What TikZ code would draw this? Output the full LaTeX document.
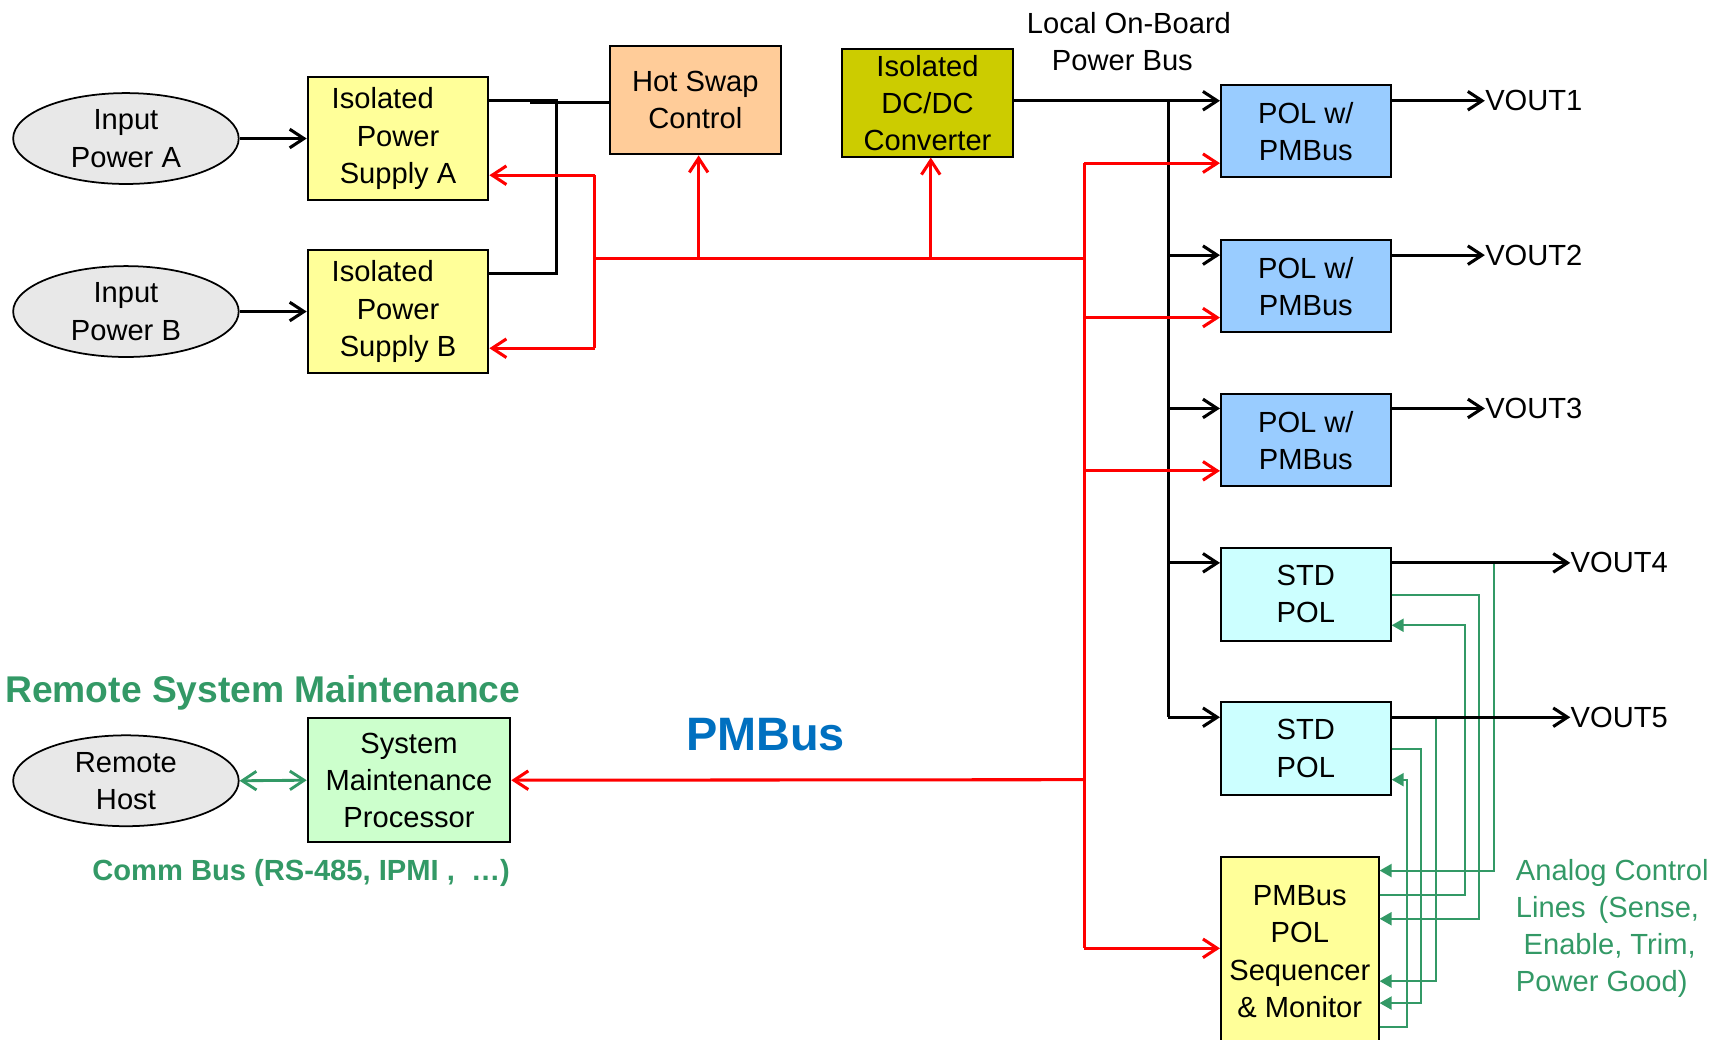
\documentclass[tikz,border=0pt]{standalone}
\usepackage{fontspec}
\setmainfont{Liberation Sans}
\usetikzlibrary{arrows.meta,shapes.geometric}

\definecolor{psyellow}{HTML}{FFFF99}
\definecolor{hotswap}{HTML}{FFCC99}
\definecolor{dcdc}{HTML}{CCCC00}
\definecolor{polblue}{HTML}{99CCFF}
\definecolor{stdcyan}{HTML}{CCFFFF}
\definecolor{smpgreen}{HTML}{CCFFCC}
\definecolor{ovalgray}{HTML}{E8E8E8}
\definecolor{ctlgreen}{HTML}{339966}
\definecolor{busblue}{HTML}{0070C0}
\definecolor{pmred}{HTML}{FF0000}

\newcommand{\dgmfont}{\fontsize{13.3}{17}\selectfont}

\tikzset{
  blk/.style={draw=black, line width=0.9pt, inner sep=0pt, align=center, font=\dgmfont},
  oval/.style={ellipse, draw=black, line width=0.8pt, fill=ovalgray, inner sep=0pt,
    minimum width=103pt, minimum height=41.5pt, align=center, font=\dgmfont},
  barb/.tip={Straight Barb[length=6.5pt,width=8.5pt]},
  pwrline/.style={line width=1.4pt},
  pwr/.style={pwrline, -barb},
  pmbline/.style={pmred, line width=1.4pt},
  pmb/.style={pmbline, -barb},
  ana/.style={ctlgreen, line width=0.9pt, -{Triangle[length=5.5pt,width=6pt]}},
  lbl/.style={inner sep=0pt, font=\dgmfont, align=center},
  vout/.style={inner sep=0pt, font=\dgmfont, anchor=west}
}

\begin{document}
\begin{tikzpicture}[x=0.5pt,y=-0.5pt]
\useasboundingbox (0,0) rectangle (1568,949);
\clip (0,0) rectangle (1568,949);

% ---- inputs and isolated supplies
\node[oval] (ina) at (115,126.5) {Input\\Power A};
\node[oval] (inb) at (115,284.5) {Input\\Power B};
\node[blk, fill=psyellow, minimum width=82.5pt, minimum height=56.5pt] (isa) at (363.5,126.5)
  {Isolated\hspace*{14pt}\\Power\\Supply A};
\node[blk, fill=psyellow, minimum width=82.5pt, minimum height=56.5pt] (isb) at (363.5,284.5)
  {Isolated\hspace*{14pt}\\Power\\Supply B};
\node[blk, fill=hotswap, minimum width=78pt, minimum height=49.5pt] (hs) at (635,91.5)
  {Hot Swap\\Control};
\node[blk, fill=dcdc, minimum width=78pt, minimum height=49pt] (dc) at (847,94)
  {Isolated\\DC/DC\\Converter};
\node[lbl] (busname) at (1031,38) {Local On-Board\\Power Bus\hspace*{6pt}};

% ---- point-of-load converters
\node[blk, fill=polblue, minimum width=77.5pt, minimum height=42pt] (pol1) at (1192.5,120) {POL w/\\PMBus};
\node[blk, fill=polblue, minimum width=77.5pt, minimum height=42pt] (pol2) at (1192.5,261.5) {POL w/\\PMBus};
\node[blk, fill=polblue, minimum width=77.5pt, minimum height=42pt] (pol3) at (1192.5,402) {POL w/\\PMBus};
\node[blk, fill=stdcyan, minimum width=77.5pt, minimum height=42.5pt] (std1) at (1192.5,542.5) {STD\\POL};
\node[blk, fill=stdcyan, minimum width=77.5pt, minimum height=42.5pt] (std2) at (1192.5,683.5) {STD\\POL};
\node[blk, fill=psyellow, minimum width=72pt, minimum height=110pt] (seq) at (1187,893) {};
\node[lbl] (seqtext) at (1187,869) {PMBus\\POL\\Sequencer\\\& Monitor};

% ---- output labels
\node[vout] (vout1) at (1356,92) {VOUT1};
\node[vout] (vout2) at (1356,233) {VOUT2};
\node[vout] (vout3) at (1356,373) {VOUT3};
\node[vout] (vout4) at (1434,514) {VOUT4};
\node[vout] (vout5) at (1434,655) {VOUT5};

% ---- remote maintenance
\node[inner sep=0pt, text=ctlgreen, font=\fontsize{17}{20}\selectfont\bfseries] (rsm) at (240,633)
  {Remote System Maintenance};
\node[oval] (host) at (115,713) {Remote\\Host};
\node[blk, fill=smpgreen, minimum width=92.5pt, minimum height=56.5pt] (smp) at (373.5,712.5)
  {System\\Maintenance\\Processor};
\node[inner sep=0pt, text=ctlgreen, font=\fontsize{13.3}{16}\selectfont\bfseries] (comm) at (275,797)
  {Comm Bus (RS-485, IPMI ,\ \ \dots)};
\node[inner sep=0pt, text=busblue, font=\fontsize{21.4}{24}\selectfont\bfseries] (pmbus) at (699,671) {PMBus};
\node[inner sep=0pt, text=ctlgreen, font=\fontsize{13.3}{17}\selectfont, align=left, anchor=west] (analog)
  at (1384,848) {Analog Control\\Lines\hspace{0.45em}(Sense,\\\hspace*{3.5pt}Enable, Trim,\\Power Good)};

% ---- power path
\draw[pwr] (ina.east) -- (isa.west);
\draw[pwr] (inb.east) -- (isb.west);
\coordinate (orA) at (508,92);
\coordinate (orB) at (508,250);
\coordinate (hsfeed) at (484,94);
\draw[pwrline] (isa.east |- orA) -- (orA) -- (orB) -- (isb.east |- orB);
\draw[pwrline] (hsfeed) -- (hs.west |- hsfeed);

\coordinate (busTop) at (1067,92);
\coordinate (busBot) at (1067,655);
\draw[pwr] (dc.east |- busTop) -- (pol1.west |- busTop);
\draw[pwrline] (busTop) -- (busBot);
\draw[pwr] (busTop |- 0,233) -- (pol2.west |- 0,233);
\draw[pwr] (busTop |- 0,373) -- (pol3.west |- 0,373);
\draw[pwr] (busTop |- 0,514) -- (std1.west |- 0,514);
\draw[pwr] (busBot) -- (std2.west |- busBot);

% ---- analog control lines
\draw[ana] (1364,514) -- (1364,795) -- (seq.east |- 0,795);
\draw[ana] (std1.east |- 0,543) -- (1351,543) -- (1351,839) -- (seq.east |- 0,839);
\draw[ana] (seq.east |- 0,817) -- (1338,817) -- (1338,571) -- (std1.east |- 0,571);
\draw[ana] (1311,655) -- (1311,896) -- (seq.east |- 0,896);
\draw[ana] (std2.east |- 0,684) -- (1298,684) -- (1298,916) -- (seq.east |- 0,916);
\draw[ana] (seq.east |- 0,938) -- (1285,938) -- (1285,712) -- (std2.east |- 0,712);

% ---- outputs
\draw[pwr] (pol1.east |- vout1) -- (vout1.west);
\draw[pwr] (pol2.east |- vout2) -- (vout2.west);
\draw[pwr] (pol3.east |- vout3) -- (vout3.west);
\draw[pwr] (std1.east |- vout4) -- (vout4.west);
\draw[pwr] (std2.east |- vout5) -- (vout5.west);

% ---- PMBus network
\coordinate (pbL) at (543,236);
\coordinate (pbR) at (990,236);
\draw[pmbline] (543,160) -- (543,318);
\draw[pmbline] (pbL) -- (pbR);
\draw[pmb] (543,160) -- (isa.east |- 0,160);
\draw[pmb] (543,318) -- (isb.east |- 0,318);
\draw[pmb] (638,236) -- (638,0 |- hs.south);
\draw[pmb] (850,236) -- (850,0 |- dc.south);
\draw[pmbline] (990,149) -- (990,866);
\draw[pmb] (990,149) -- (pol1.west |- 0,149);
\draw[pmb] (990,290) -- (pol2.west |- 0,290);
\draw[pmb] (990,430) -- (pol3.west |- 0,430);
\draw[pmb] (990,866) -- (seq.west |- 0,866);
\draw[pmb] (990,712) -- (smp.east);

% ---- comm bus
\draw[ctlgreen, line width=1.3pt, barb-barb] (host.east) -- (smp.west);
\end{tikzpicture}
\end{document}
